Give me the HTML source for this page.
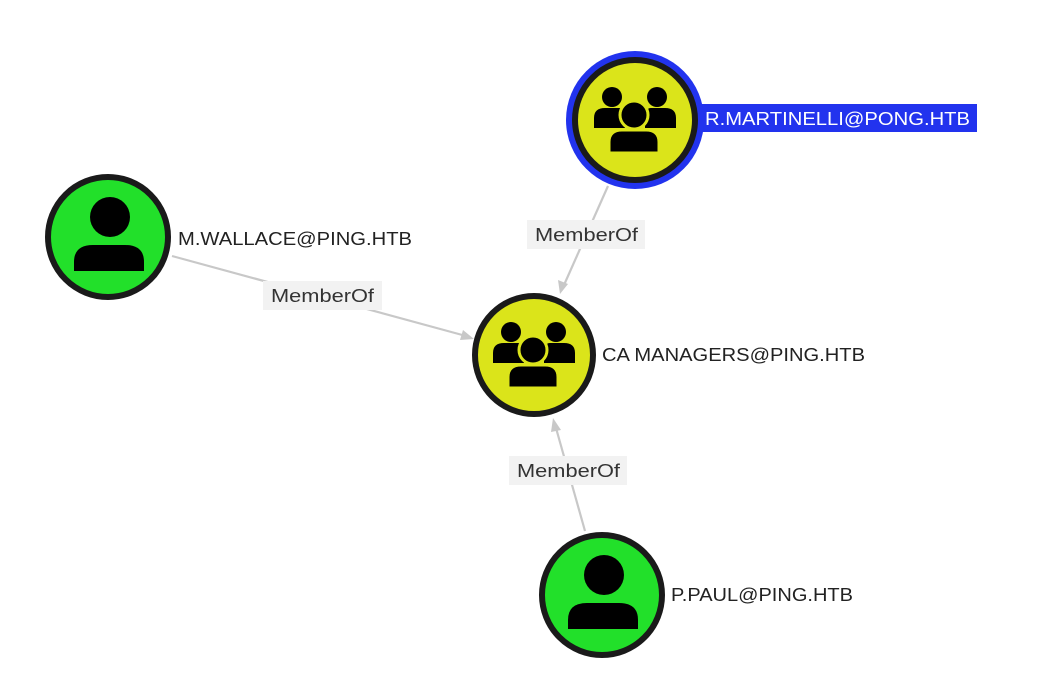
<!DOCTYPE html>
<html><head><meta charset="utf-8"><style>
html,body{margin:0;padding:0;background:#fff;width:1037px;height:690px;overflow:hidden}
svg{display:block}
text{font-family:"Liberation Sans",sans-serif}
</style></head><body>
<svg width="1037" height="690" viewBox="0 0 1037 690" xmlns="http://www.w3.org/2000/svg">
<defs>
<g id="grp">
  <circle cx="-23" cy="-23" r="10" fill="#000"/>
  <circle cx="22" cy="-23" r="10" fill="#000"/>
  <path d="M-41 8 L-41 -2 Q-41 -12 -30 -12 L-16 -12 Q-10 -12 -10 -2 L-10 8 Z" fill="#000"/>
  <path d="M41 8 L41 -2 Q41 -12 30 -12 L16 -12 Q10 -12 10 -2 L10 8 Z" fill="#000"/>
  <path d="M-26 33 L-26 22 Q-26 10 -13 10 L11 10 Q24 10 24 22 L24 33 Z" fill="#000" stroke="#dbe41a" stroke-width="3"/>
  <circle cx="-1" cy="-5" r="14" fill="#000" stroke="#dbe41a" stroke-width="3"/>
</g>
<g id="usr">
  <circle cx="2" cy="-20" r="20" fill="#000"/>
  <path d="M-34 34 L-34 25 Q-34 8 -15 8 L17 8 Q36 8 36 25 L36 34 Z" fill="#000"/>
</g>
</defs>

<g stroke="#c8c8c8" stroke-width="2.2" fill="none">
  <line x1="172" y1="256" x2="466" y2="336"/>
  <line x1="608" y1="186" x2="564" y2="285"/>
  <line x1="585" y1="531" x2="556" y2="428"/>
</g>
<g fill="#c8c8c8">
  <polygon points="474,339 460,340 463,330"/>
  <polygon points="560,294 558,280 568,284"/>
  <polygon points="553,418 561,430 551,432"/>
</g>

<rect x="263" y="281" width="119" height="29" fill="#f2f2f2"/>
<text x="271" y="302" font-size="18" fill="#333" textLength="103" lengthAdjust="spacingAndGlyphs">MemberOf</text>
<rect x="527" y="220" width="118" height="29" fill="#f2f2f2"/>
<text x="535" y="241" font-size="18" fill="#333" textLength="103" lengthAdjust="spacingAndGlyphs">MemberOf</text>
<rect x="509" y="456" width="118" height="29" fill="#f2f2f2"/>
<text x="517" y="477" font-size="18" fill="#333" textLength="103" lengthAdjust="spacingAndGlyphs">MemberOf</text>

<rect x="700" y="104" width="277" height="28" fill="#2233ee"/>
<circle cx="635" cy="120" r="69" fill="#2233ee"/>
<circle cx="635" cy="120" r="60" fill="#dbe41a" stroke="#1a1a1a" stroke-width="6"/>
<use href="#grp" x="635" y="120"/>
<text x="705" y="125" font-size="18" fill="#fff" textLength="265" lengthAdjust="spacingAndGlyphs">R.MARTINELLI@PONG.HTB</text>

<circle cx="108" cy="237" r="60" fill="#22e02a" stroke="#1a1a1a" stroke-width="6"/>
<use href="#usr" x="108" y="237"/>
<text x="178" y="245" font-size="18" fill="#222" textLength="234" lengthAdjust="spacingAndGlyphs">M.WALLACE@PING.HTB</text>

<circle cx="534" cy="355" r="59" fill="#dbe41a" stroke="#1a1a1a" stroke-width="6"/>
<use href="#grp" x="534" y="355"/>
<text x="602" y="361" font-size="18" fill="#222" textLength="263" lengthAdjust="spacingAndGlyphs">CA MANAGERS@PING.HTB</text>

<circle cx="602" cy="595" r="60" fill="#22e02a" stroke="#1a1a1a" stroke-width="6"/>
<use href="#usr" x="602" y="595"/>
<text x="671" y="601" font-size="18" fill="#222" textLength="182" lengthAdjust="spacingAndGlyphs">P.PAUL@PING.HTB</text>
</svg>
</body></html>
